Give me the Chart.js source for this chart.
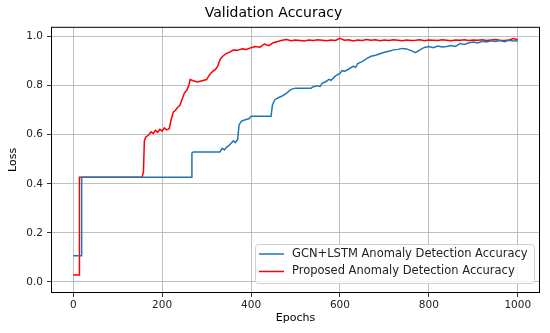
<!DOCTYPE html>
<html>
<head>
<meta charset="utf-8">
<script src="https://cdn.jsdelivr.net/npm/chart.js@4.4.1/dist/chart.umd.min.js"></script>
<style>
    html, body { margin: 0; padding: 0; background: #fff; }
    #wrap { width: 550px; height: 333px; }
</style>
</head>
<body>
<div id="wrap"><canvas id="accChart" width="550" height="333"></canvas></div>
<script>
// --- Data ---
const gcnEpochs = [0, 18, 19, 265, 267, 270, 330, 335, 340, 345, 350, 355, 360, 365, 370, 373, 378, 385, 395, 400, 445, 448, 453, 460,
    470, 480, 490, 500, 535, 540, 550, 555, 560, 570, 575, 580, 590, 600, 605, 610, 620, 630, 635, 640, 650, 660, 670, 680, 690,
    700, 710, 720, 730, 740, 750, 760, 770, 780, 790, 800, 810, 820, 830, 840, 850, 860, 870, 880, 890, 900, 910, 920, 930, 940,
    950, 960, 970, 980, 990, 1000];
const gcnAcc = [0.107, 0.107, 0.427, 0.427, 0.525, 0.53, 0.53, 0.545, 0.538, 0.55, 0.556, 0.565, 0.575, 0.568, 0.582, 0.64, 0.655, 0.66, 0.665, 0.675, 0.675, 0.72, 0.742, 0.75,
    0.758, 0.77, 0.785, 0.79, 0.79, 0.796, 0.80, 0.796, 0.81, 0.818, 0.826, 0.822, 0.84, 0.85, 0.862, 0.858, 0.868, 0.88, 0.874, 0.89, 0.898, 0.91, 0.92, 0.924, 0.93,
    0.936, 0.94, 0.946, 0.948, 0.952, 0.95, 0.943, 0.935, 0.946, 0.956, 0.96, 0.955, 0.962, 0.958, 0.96, 0.964, 0.96, 0.972, 0.968, 0.975, 0.978,
    0.974, 0.981, 0.978, 0.983, 0.98, 0.984, 0.979, 0.985, 0.982, 0.983];

const propEpochs = [0, 13, 14, 155, 158, 160, 163, 170, 175, 180, 185, 190, 195, 200, 205, 210, 216, 220, 225, 230, 235, 240, 245, 250, 255, 260, 263,
    270, 280, 290, 300, 305, 310, 315, 320, 325, 330, 335, 340, 345, 350, 360, 370, 380, 390, 400, 410, 420, 430, 440, 450, 460, 470, 480,
    490, 500, 510, 520, 530, 540, 550, 560, 570, 580, 590, 600, 610, 620, 630, 640, 650, 660, 670, 680, 690, 700, 710, 720, 730, 740,
    750, 760, 770, 780, 790, 800, 810, 820, 830, 840, 850, 860, 870, 880, 890, 900, 910, 920, 930, 940, 950, 960, 970, 980, 990, 1000];
const propAcc = [0.028, 0.028, 0.427, 0.427, 0.45, 0.575, 0.59, 0.60, 0.612, 0.605, 0.618, 0.61, 0.622, 0.615, 0.628, 0.62, 0.625, 0.66, 0.692, 0.70, 0.712, 0.72, 0.745, 0.77, 0.78, 0.80, 0.825,
    0.82, 0.815, 0.82, 0.825, 0.84, 0.852, 0.86, 0.866, 0.88, 0.905, 0.918, 0.925, 0.932, 0.935, 0.945, 0.944, 0.95, 0.948, 0.955, 0.96, 0.957, 0.97, 0.963, 0.975, 0.98, 0.985, 0.988,
    0.983, 0.986, 0.984, 0.982, 0.986, 0.984, 0.987, 0.985, 0.983, 0.986, 0.984, 0.993, 0.985, 0.987, 0.982, 0.986, 0.984, 0.988, 0.985, 0.987, 0.983, 0.986, 0.984, 0.987, 0.985, 0.983,
    0.986, 0.984, 0.985, 0.987, 0.983, 0.986, 0.985, 0.984, 0.987, 0.985, 0.983, 0.986, 0.985, 0.987, 0.984, 0.986, 0.985, 0.987, 0.984, 0.986, 0.988, 0.985, 0.984, 0.986, 0.992, 0.987];

const xTicks = [0, 200, 400, 600, 800, 1000];
const yTicks = [0.0, 0.2, 0.4, 0.6, 0.8, 1.0];
const seriesLabels = ['GCN+LSTM Anomaly Detection Accuracy', 'Proposed Anomaly Detection Accuracy'];
const seriesColors = ['#1f77b4', '#ff0000'];

const FONT = "'DejaVu Sans', sans-serif";

function toPoints(xs, ys) {
    return xs.map((x, i) => ({ x: x, y: ys[i] }));
}

// frame around the plot + legend box inside the axes
const framePlugin = {
    id: 'frame',
    afterDraw(chart) {
        const { ctx, chartArea: a } = chart;
        ctx.save();
        ctx.strokeStyle = '#000';
        ctx.lineWidth = 1;
        ctx.strokeRect(a.left + 0.5, a.top + 0.5, a.right - a.left - 1, a.bottom - a.top - 1);

        // legend
        const w = 279, h = 39;
        const x0 = a.right - 6 - w, y0 = a.bottom - 10 - h;
        ctx.beginPath();
        ctx.roundRect(x0 + 0.5, y0 + 0.5, w, h, 3);
        ctx.fillStyle = 'rgba(255,255,255,0.8)';
        ctx.fill();
        ctx.strokeStyle = '#d0d0d0';
        ctx.stroke();
        ctx.font = '11.5px ' + FONT;
        ctx.textBaseline = 'middle';
        seriesLabels.forEach((lab, i) => {
            const yy = y0 + 10 + i * 17.5;
            ctx.strokeStyle = seriesColors[i];
            ctx.lineWidth = 1.5;
            ctx.beginPath();
            ctx.moveTo(x0 + 4, yy);
            ctx.lineTo(x0 + 29, yy);
            ctx.stroke();
            ctx.fillStyle = '#222';
            ctx.fillText(lab, x0 + 37, yy);
        });
        ctx.restore();
    }
};

const ctx = document.getElementById('accChart');
new Chart(ctx, {
    type: 'line',
    data: {
        datasets: [{
            label: seriesLabels[0],
            data: toPoints(gcnEpochs, gcnAcc),
            borderColor: seriesColors[0],
            borderWidth: 1.5,
            pointRadius: 0,
            tension: 0
        }, {
            label: seriesLabels[1],
            data: toPoints(propEpochs, propAcc),
            borderColor: seriesColors[1],
            borderWidth: 1.5,
            pointRadius: 0,
            tension: 0
        }]
    },
    options: {
        responsive: false,
        animation: false,
        layout: { padding: { left: 7, right: 10, top: 0, bottom: 8 } },
        plugins: {
            legend: { display: false },
            tooltip: { enabled: false },
            title: {
                display: true,
                text: 'Validation Accuracy',
                color: '#000',
                font: { family: FONT, size: 14, weight: 'normal' },
                padding: { top: 5, bottom: 5 }
            }
        },
        scales: {
            x: {
                type: 'linear',
                min: -50,
                max: 1050,
                afterBuildTicks: s => { s.ticks = xTicks.map(v => ({ value: v })); },
                afterFit: s => { s.height = 32; },
                grid: { color: '#b0b0b0', lineWidth: 0.8, tickColor: '#000', tickLength: 4 },
                border: { display: false },
                ticks: { color: '#222', font: { family: FONT, size: 10.5 }, padding: 2, maxRotation: 0, callback: v => String(v) },
                title: { display: true, text: 'Epochs', color: '#000', font: { family: FONT, size: 11 }, padding: { top: 2, bottom: 0 } }
            },
            y: {
                min: -0.045,
                max: 1.04,
                afterBuildTicks: s => { s.ticks = yTicks.map(v => ({ value: v })); },
                afterFit: s => { s.width = 44; },
                grid: { color: '#b0b0b0', lineWidth: 0.8, tickColor: '#000', tickLength: 4 },
                border: { display: false },
                ticks: { color: '#222', font: { family: FONT, size: 10.5 }, padding: 4, callback: v => v.toFixed(1) },
                title: { display: true, text: 'Loss', color: '#000', font: { family: FONT, size: 11 }, padding: { top: 0, bottom: 2 } }
            }
        }
    },
    plugins: [framePlugin]
});
</script>
</body>
</html>
